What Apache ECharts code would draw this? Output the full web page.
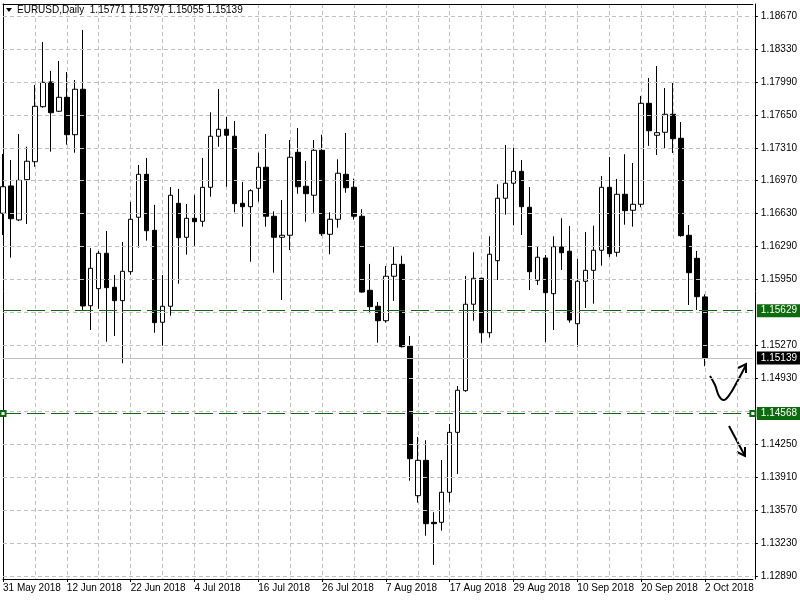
<!DOCTYPE html>
<html><head><meta charset="utf-8">
<script src="https://cdn.jsdelivr.net/npm/echarts@6/dist/echarts.min.js"></script>
<style>html,body{margin:0;padding:0;background:#fff}#c{width:800px;height:600px}</style>
</head><body><div id="c"></div>
<script>
const symbolName = 'EURUSD';
const timeframe = 'Daily';
const dates = ['31 May 2018',
 '1 Jun 2018','4 Jun 2018','5 Jun 2018','6 Jun 2018','7 Jun 2018','8 Jun 2018','11 Jun 2018','12 Jun 2018','13 Jun 2018','14 Jun 2018','15 Jun 2018','18 Jun 2018','19 Jun 2018','20 Jun 2018','21 Jun 2018','22 Jun 2018','25 Jun 2018','26 Jun 2018','27 Jun 2018','28 Jun 2018','29 Jun 2018',
 '2 Jul 2018','3 Jul 2018','4 Jul 2018','5 Jul 2018','6 Jul 2018','9 Jul 2018','10 Jul 2018','11 Jul 2018','12 Jul 2018','13 Jul 2018','16 Jul 2018','17 Jul 2018','18 Jul 2018','19 Jul 2018','20 Jul 2018','23 Jul 2018','24 Jul 2018','25 Jul 2018','26 Jul 2018','27 Jul 2018','30 Jul 2018','31 Jul 2018',
 '1 Aug 2018','2 Aug 2018','3 Aug 2018','6 Aug 2018','7 Aug 2018','8 Aug 2018','9 Aug 2018','10 Aug 2018','13 Aug 2018','14 Aug 2018','15 Aug 2018','16 Aug 2018','17 Aug 2018','20 Aug 2018','21 Aug 2018','22 Aug 2018','23 Aug 2018','24 Aug 2018','27 Aug 2018','28 Aug 2018','29 Aug 2018','30 Aug 2018','31 Aug 2018',
 '3 Sep 2018','4 Sep 2018','5 Sep 2018','6 Sep 2018','7 Sep 2018','10 Sep 2018','11 Sep 2018','12 Sep 2018','13 Sep 2018','14 Sep 2018','17 Sep 2018','18 Sep 2018','19 Sep 2018','20 Sep 2018','21 Sep 2018','24 Sep 2018','25 Sep 2018','26 Sep 2018','27 Sep 2018','28 Sep 2018',
 '1 Oct 2018','2 Oct 2018'];
const opens = [1.16634,1.16916,1.16565,1.16981,1.17166,1.17734,1.17989,1.17687,1.17831,1.17445,
 1.17914,1.15680,1.15856,1.16221,1.15870,1.15732,1.16031,1.16593,1.17036,1.16458,
 1.15509,1.15674,1.16737,1.16386,1.16582,1.16551,1.16902,1.17429,1.17501,1.17429,
 1.16737,1.16702,1.16892,1.17109,1.16603,1.16386,1.16407,1.17263,1.16913,1.16820,
 1.17284,1.16417,1.16572,1.17036,1.16902,1.16603,1.15839,1.15674,1.15525,1.15984,
 1.16107,1.15261,1.13719,1.14084,1.13444,1.13444,1.13754,1.14373,1.14803,1.15695,
 1.15963,1.15401,1.16145,1.16789,1.16944,1.17067,1.16696,1.15942,1.16172,1.15804,
 1.16286,1.16242,1.15494,1.15932,1.16045,1.16252,1.16902,1.16231,1.16830,1.16665,
 1.16727,1.17769,1.17439,1.17470,1.17656,1.17408,1.16407,1.16169,1.15771];
const closes = [1.16908,1.16578,1.16974,1.17171,1.17738,1.17986,1.17672,1.17831,1.17445,1.17914,
 1.15677,1.16066,1.16221,1.15866,1.15732,1.16035,1.16572,1.17036,1.16454,1.15505,
 1.15674,1.16820,1.16382,1.16582,1.16547,1.16902,1.17429,1.17501,1.17439,1.16733,
 1.16702,1.16867,1.17109,1.16603,1.16386,1.16407,1.17212,1.16908,1.16836,1.17284,
 1.16423,1.16572,1.17047,1.16898,1.16603,1.15821,1.15670,1.15525,1.15984,1.16107,
 1.15257,1.14101,1.14084,1.13430,1.13430,1.13754,1.14373,1.14807,1.15695,1.15963,
 1.15401,1.16211,1.16789,1.16944,1.17067,1.16702,1.16031,1.16180,1.15814,1.16289,
 1.16227,1.15532,1.15932,1.16045,1.16252,1.16902,1.16217,1.16830,1.16661,1.16727,
 1.17769,1.17486,1.17466,1.17656,1.17404,1.16403,1.16021,1.15773,1.15139];
const lows = [1.16410,1.16176,1.16554,1.16523,1.17115,1.17724,1.17270,1.17679,1.17342,1.17259,
 1.15636,1.15429,1.15649,1.15308,1.15367,1.15086,1.16000,1.16279,1.16351,1.15401,
 1.15267,1.15577,1.15907,1.16207,1.16299,1.16496,1.16805,1.17321,1.16908,1.16644,
 1.16496,1.16134,1.16754,1.16496,1.16021,1.15739,1.16255,1.16836,1.16547,1.16640,
 1.16400,1.16211,1.16485,1.16846,1.16568,1.15814,1.15602,1.15298,1.15505,1.15729,
 1.15249,1.13874,1.13647,1.13306,1.13004,1.13358,1.13651,1.13943,1.14792,1.15525,
 1.15298,1.15350,1.15945,1.16619,1.16510,1.16410,1.15842,1.15894,1.15305,1.15429,
 1.16049,1.15505,1.15257,1.15656,1.15701,1.16093,1.16183,1.16186,1.16516,1.16496,
 1.16696,1.17329,1.17236,1.17308,1.17256,1.16392,1.15687,1.15636,1.15055];
const highs = [1.17246,1.17184,1.17452,1.17321,1.17958,1.18402,1.18103,1.18206,1.18092,1.18010,
 1.18526,1.16273,1.16245,1.16451,1.15997,1.16338,1.16750,1.17132,1.17205,1.16720,
 1.15997,1.16905,1.16885,1.16730,1.16823,1.17205,1.17676,1.17917,1.17628,1.17587,
 1.16957,1.16882,1.17259,1.17452,1.16654,1.16771,1.17390,1.17514,1.17174,1.17390,
 1.17445,1.16644,1.17191,1.17463,1.16991,1.16675,1.16111,1.15718,1.16090,1.16289,
 1.16196,1.15367,1.14325,1.14291,1.13548,1.14087,1.14459,1.14851,1.15987,1.16231,
 1.15968,1.16396,1.16933,1.17339,1.17308,1.17184,1.16905,1.16289,1.16203,1.16396,
 1.16582,1.16503,1.16162,1.16441,1.16506,1.17019,1.17215,1.16988,1.17243,1.17153,
 1.17845,1.18030,1.18154,1.17927,1.17979,1.17576,1.16513,1.16245,1.15797];
const futureSlots = 6;
const priceGridValues = [1.18670,1.18330,1.17990,1.17650,1.17310,1.16970,1.16630,1.16290,1.15950,1.15610,1.15270,1.14930,1.14590,1.14250,1.13910,1.13570,1.13230,1.12890];
const priceLabelValues = [1.18670,1.18330,1.17990,1.17650,1.17310,1.16970,1.16630,1.16290,1.15950,1.15270,1.14930,1.14250,1.13910,1.13570,1.13230,1.12890];
const priceMin = 1.12859, priceMax = 1.18794;
const bidPrice = 1.15139;
const upperLevel = 1.15629;
const lowerLevel = 1.14568;

const N = dates.length;
const cats = dates.concat(Array(futureSlots).fill(''));
const ohlc = opens.map((o, i) => [o, closes[i], lows[i], highs[i]]);
const fmt = v => v.toFixed(5);
const FONT = 'Liberation Sans, Arial, sans-serif';
const GREEN = '#0c6b0c';
const labelBox = (bg) => ({show: true, position: 'end', distance: 4, formatter: p => fmt(p.value),
  backgroundColor: bg, color: '#fff', padding: [2, 4, 1, 4], fontFamily: FONT, fontSize: 10});

const chart = echarts.init(document.getElementById('c'));
chart.setOption({
  animation: false,
  backgroundColor: '#fff',
  title: {
    text: `${symbolName},${timeframe}  ${fmt(opens[N-1])} ${fmt(highs[N-1])} ${fmt(lows[N-1])} ${fmt(closes[N-1])}`,
    left: 17, top: 5, padding: 0,
    textStyle: {fontFamily: FONT, fontSize: 10, fontWeight: 'normal', color: '#000'}
  },
  grid: {left: 3, top: 4, right: 45, bottom: 21, show: false},
  xAxis: [{
    type: 'category', data: cats, boundaryGap: false,
    axisLine: {lineStyle: {color: '#000', width: 1}},
    axisTick: {show: true, length: 3, interval: i => i % 8 === 0, lineStyle: {color: '#000'}},
    axisLabel: {interval: i => i % 8 === 0, align: 'left', margin: 4, fontFamily: FONT, fontSize: 10, color: '#000'},
    splitLine: {show: true, interval: i => i % 4 === 0, lineStyle: {color: '#c0c0c0', type: [4, 3]}}
  }, {
    type: 'category', data: cats, boundaryGap: false, position: 'top',
    axisLine: {lineStyle: {color: '#000'}}, axisTick: {show: false}, axisLabel: {show: false}, splitLine: {show: false}
  }],
  yAxis: [{
    type: 'value', position: 'right', offset: 2, min: priceMin, max: priceMax,
    axisLine: {show: true, lineStyle: {color: '#000'}},
    axisTick: {show: true, length: 3, customValues: priceLabelValues, lineStyle: {color: '#000'}},
    axisLabel: {customValues: priceLabelValues, formatter: v => fmt(v), margin: 6, align: 'left', fontFamily: FONT, fontSize: 10, color: '#000'},
    splitLine: {show: false}
  }, {
    type: 'value', position: 'left', min: priceMin, max: priceMax,
    axisLine: {show: true, lineStyle: {color: '#000'}}, axisTick: {show: false}, axisLabel: {show: false}, splitLine: {show: false}
  }],
  series: [{
    type: 'line', data: [], z: 1, silent: true,
    markLine: {silent: true, animation: false, precision: 5, symbol: ['none', 'none'], label: {show: false},
      lineStyle: {color: '#c0c0c0', type: [4, 3], width: 1},
      data: priceGridValues.map(v => ({yAxis: v}))}
  }, {
    type: 'line', data: [], z: 2, silent: true,
    markLine: {silent: true, animation: false, precision: 5, symbol: ['none', 'none'],
      lineStyle: {color: '#c0c0c0', type: 'solid', width: 1},
      label: labelBox('#000'), data: [{yAxis: bidPrice}]}
  }, {
    type: 'candlestick', data: ohlc, barWidth: 5, z: 3,
    itemStyle: {color: '#fff', color0: '#000', borderColor: '#000', borderColor0: '#000', borderWidth: 1}
  }, {
    type: 'line', data: [], z: 4, silent: true,
    markLine: {silent: true, animation: false, precision: 5, symbol: ['none', 'none'],
      lineStyle: {color: GREEN, type: [18, 6], width: 1},
      label: labelBox(GREEN), data: [{yAxis: upperLevel}]}
  }, {
    type: 'line', data: [], z: 4, silent: true,
    markLine: {silent: true, animation: false, precision: 5, symbol: ['emptyRect', 'emptyRect'], symbolSize: 5,
      lineStyle: {color: GREEN, type: [18, 6], width: 1},
      label: labelBox(GREEN), data: [{yAxis: lowerLevel}]}
  }],
  graphic: [
    {type: 'polygon', shape: {points: [[6, 8], [12, 8], [9, 12]]}, style: {fill: '#000'}},
    {type: 'polyline', shape: {points: [[710, 376], [715, 385], [719, 396], [724, 400], [730, 394], [737, 382], [746, 365]], smooth: 0.4},
      style: {stroke: '#000', lineWidth: 2, fill: null}},
    {type: 'polyline', shape: {points: [[738, 368], [746, 364], [746, 373]]}, style: {stroke: '#000', lineWidth: 2, fill: null}},
    {type: 'line', shape: {x1: 729, y1: 426, x2: 745, y2: 456}, style: {stroke: '#000', lineWidth: 2}},
    {type: 'polyline', shape: {points: [[737, 452], [745, 456], [745, 447]]}, style: {stroke: '#000', lineWidth: 2, fill: null}}
  ]
});
</script>
</body></html>
